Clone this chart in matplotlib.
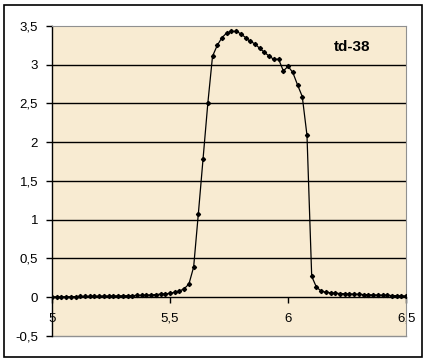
import matplotlib.pyplot as plt
from matplotlib.patches import Rectangle
from matplotlib.ticker import FuncFormatter

# wavelength-ish x values, step 0.02
x = [5.00, 5.02, 5.04, 5.06, 5.08, 5.10, 5.12, 5.14, 5.16, 5.18,
     5.20, 5.22, 5.24, 5.26, 5.28, 5.30, 5.32, 5.34, 5.36, 5.38,
     5.40, 5.42, 5.44, 5.46, 5.48, 5.50, 5.52, 5.54, 5.56, 5.58,
     5.60, 5.62, 5.64, 5.66, 5.68, 5.70, 5.72, 5.74, 5.76, 5.78,
     5.80, 5.82, 5.84, 5.86, 5.88, 5.90, 5.92, 5.94, 5.96, 5.98,
     6.00, 6.02, 6.04, 6.06, 6.08, 6.10, 6.12, 6.14, 6.16, 6.18,
     6.20, 6.22, 6.24, 6.26, 6.28, 6.30, 6.32, 6.34, 6.36, 6.38,
     6.40, 6.42, 6.44, 6.46, 6.48, 6.50]
y = [0.005, 0.005, 0.006, 0.006, 0.007, 0.008, 0.010, 0.011, 0.012, 0.013,
     0.014, 0.015, 0.016, 0.017, 0.018, 0.019, 0.020, 0.022, 0.023, 0.025,
     0.027, 0.030, 0.035, 0.040, 0.045, 0.050, 0.065, 0.080, 0.11, 0.17,
     0.39, 1.08, 1.79, 2.50, 3.11, 3.25, 3.35, 3.41, 3.43, 3.43,
     3.40, 3.35, 3.30, 3.27, 3.21, 3.16, 3.11, 3.07, 3.07, 2.92,
     2.98, 2.90, 2.74, 2.59, 2.09, 0.27, 0.13, 0.08, 0.065, 0.058,
     0.052, 0.048, 0.045, 0.042, 0.040, 0.037, 0.035, 0.032, 0.030, 0.028,
     0.026, 0.024, 0.022, 0.020, 0.018, 0.016]
yticks = [-0.5, 0, 0.5, 1, 1.5, 2, 2.5, 3, 3.5]
xticks = [5, 5.5, 6, 6.5]

plt.rcParams['font.family'] = ['Liberation Sans', 'DejaVu Sans']

fig = plt.figure(figsize=(4.33, 3.63), dpi=100)
fig.patch.set_facecolor('white')
fig.patches.append(Rectangle((0.0092, 0.0165), 0.965, 0.970, transform=fig.transFigure,
                             fill=False, edgecolor='black', linewidth=1.2))

ax = fig.add_axes([0.120, 0.0744, 0.818, 0.854])
ax.set_facecolor('#F8EBD2')

for g in yticks[2:-1]:
    ax.axhline(g, color='black', linewidth=1.0, zorder=1)
ax.axhline(-0.5, color='#909090', linewidth=1.0, clip_on=False, zorder=1)

ax.plot(x, y, color='black', linewidth=0.9, marker='D', markersize=2.1, zorder=3)

ax.set_xlim(5, 6.5)
ax.set_ylim(-0.5, 3.5)

fmt = FuncFormatter(lambda v, p: ('%g' % v).replace('.', ','))
ax.set_yticks(yticks)
ax.set_xticks(xticks)
ax.yaxis.set_major_formatter(fmt)
ax.xaxis.set_major_formatter(fmt)

ax.spines['bottom'].set_position(('data', 0))
ax.spines['bottom'].set_linewidth(1.0)
ax.spines['left'].set_linewidth(1.0)
ax.spines['top'].set_color('#909090')
ax.spines['right'].set_color('#909090')

ax.tick_params(axis='y', direction='out', length=4, width=1, pad=6, labelsize=9.5)
ax.tick_params(axis='x', direction='out', length=4, width=1, pad=7, labelsize=9.5)

ax.text(6.27, 3.23, 'td-38', fontsize=11, fontweight='bold', ha='center', va='center')

fig.savefig('out.png', dpi=100)
